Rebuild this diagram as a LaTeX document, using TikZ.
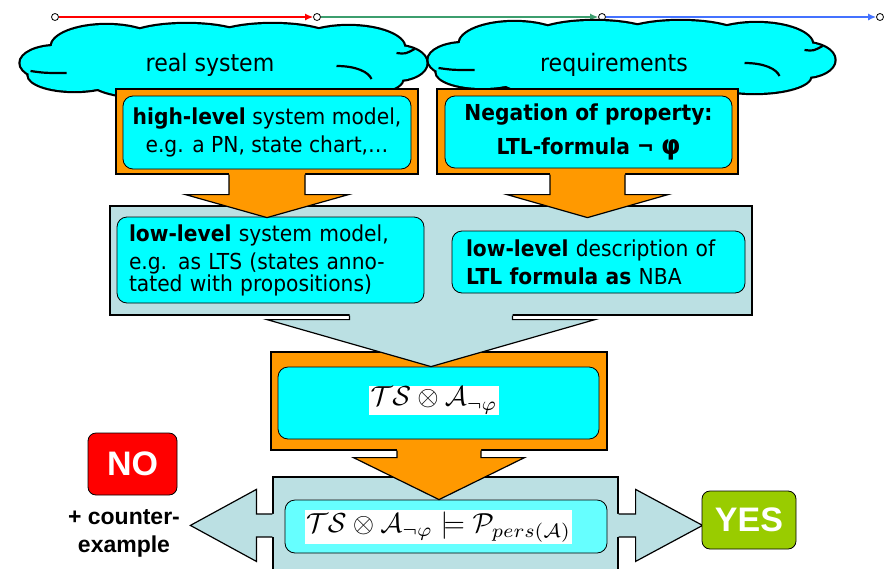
\documentclass[tikz,border=0pt]{standalone}
\usepackage{fontspec}
\newfontfamily\boxfont{DejaVu Sans}[FakeStretch=0.92]
\newfontfamily\arialfont{Liberation Sans}
\usetikzlibrary{arrows.meta,calc}

\definecolor{boxorange}{HTML}{FF9900}
\definecolor{boxcyan}{HTML}{00FFFF}
\definecolor{palecyan}{HTML}{66FFFF}
\definecolor{boxgray}{HTML}{BBE0E3}
\definecolor{nored}{HTML}{FF0000}
\definecolor{yesgreen}{HTML}{99CC00}
\definecolor{linegreen}{HTML}{3C9E6E}
\definecolor{lineblue}{HTML}{4472FF}

% block arrow hanging off a box: anchor, rotation, stem half, head half, stem length, tip length, fill
\newcommand{\blockarrow}[7]{%
  \begin{scope}[shift={(#1)},rotate=#2]
    \fill[#7] (-#3,-1.5) -- (-#3,#5) -- (-#4,#5) -- (0,#6) -- (#4,#5) -- (#3,#5) -- (#3,-1.5) -- cycle;
    \draw[line width=1.2pt,line join=miter] (-#3,0) -- (-#3,#5) -- (-#4,#5) -- (0,#6) -- (#4,#5) -- (#3,#5) -- (#3,0);
  \end{scope}}

% puffs of a cloud: x/y/rx/ry around its centre
\def\cloudpuffs{-168/2/36/17, -118/-14/55/22, -38/-21/62/16, 48/-21/62/16, 124/-13/56/22,
  172/2/30/17, 122/18/56/17, 32/22/72/15, -68/20/66/17, -150/14/46/16, 0/0/175/24}
\newcommand{\puffcloud}[1]{%
  \begin{scope}[shift={(#1)}]
    \foreach \px/\py/\rx/\ry in \cloudpuffs
      \draw[line width=4.4pt,fill=boxcyan] (\px,\py) ellipse ({\rx} and {\ry});
    \foreach \px/\py/\rx/\ry in \cloudpuffs
      \fill[boxcyan] (\px,\py) ellipse ({\rx} and {\ry});
    % creases
    \draw[line width=2.2pt] (-194,10) .. controls (-180,12) .. (-158,12);
    \draw[line width=2.2pt] (112,5) .. controls (132,5) and (144,11) .. (147,18);
    \draw[line width=2.2pt] (172,-8) .. controls (181,-7) .. (190,-12);
  \end{scope}}

\begin{document}
\begin{tikzpicture}[x=1pt,y=-1pt,
  outer/.style={rectangle,draw,line width=1.2pt,inner sep=0pt},
  inner/.style={rectangle,draw,line width=0.8pt,rounded corners=10pt,fill=boxcyan,inner sep=0pt,
    font=\boxfont\fontsize{22}{28}\selectfont},
  formula/.style={fill=white,inner sep=1.5pt},
  dot/.style={circle,draw,fill=white,line width=0.8pt,inner sep=0pt,minimum size=7pt},
  verdict/.style={rectangle,draw,line width=0.8pt,rounded corners=8pt,text=white,
    font=\arialfont\bfseries\fontsize{34}{34}\selectfont}]
\useasboundingbox (0,0) rectangle (894,568);
\clip (0,0) rectangle (894,568);

% time line
\node[dot] (t0) at (55,17) {};
\node[dot] (t1) at (317,17) {};
\node[dot] (t2) at (602,17) {};
\node[dot] (t3) at (880,17) {};
\draw[nored,line width=1.3pt,-{Latex[length=8pt,width=7pt]}] (t0) -- (t1);
\draw[linegreen,line width=1.3pt,-{Latex[length=8pt,width=7pt]}] (t1) -- (t2);
\draw[lineblue,line width=1.3pt,-{Latex[length=8pt,width=7pt]}] (t2) -- (t3);

% clouds
\puffcloud{224.5,61}
\node[font=\boxfont\fontsize{24}{28}\selectfont] (realtxt) at (210,65) {real system};
\puffcloud{632.5,58}
\node[font=\boxfont\fontsize{24}{28}\selectfont] (reqtxt) at (614,65) {requirements};

% model check box
\node[outer,fill=boxgray,minimum width=345pt,minimum height=143pt] (check) at (445.5,548.5) {};
\blockarrow{$(check.north west)+(0,49)$}{-90}{11.5}{36}{16}{82}{boxgray}
\blockarrow{$(check.north east)+(0,49)$}{90}{11.5}{36}{17}{84}{boxgray}
\node[inner,fill=palecyan,minimum width=322pt,minimum height=53pt] (checkin) at (446,526.5) {};
\node[formula] (checkf) at (438.5,527) {\scalebox{2.75}{$\mathcal{TS}\otimes\mathcal{A}_{\neg\varphi}\models\mathcal{P}_{pers(\mathcal{A})}$}};

\node[verdict,fill=nored,minimum width=89pt,minimum height=62pt] (no) at (132.5,464) {NO};
\node[verdict,fill=yesgreen,minimum width=94pt,minimum height=58pt] (yes) at (749,520) {YES};
\node[align=center,font=\arialfont\bfseries\fontsize{23}{28}\selectfont] (cex) at (124,533) {+ counter-\\example};

% product
\node[outer,fill=boxorange,minimum width=336pt,minimum height=98pt] (prod) at (439,401) {};
\node[inner,minimum width=321pt,minimum height=72pt] (prodin) at (438.5,403) {};
\node[formula] (prodf) at (434,400.5) {\scalebox{2.75}{$\mathcal{TS}\otimes\mathcal{A}_{\neg\varphi}$}};
\blockarrow{prod.south}{0}{42}{85.5}{7}{49}{boxorange}

% low level
\node[outer,fill=boxgray,minimum width=642pt,minimum height=109pt] (low) at (431,260.5) {};
\node[inner,align=left,text width=283pt,minimum width=307pt,minimum height=86pt] (lowsys) at (270.5,260)
  {\textbf{low-level} system model,\\e.g. as LTS (states anno-\\[-6pt]tated with propositions)};
\node[inner,align=left,text width=265pt,minimum width=293pt,minimum height=62pt] (lownba) at (598.5,262)
  {\textbf{low-level} description of\\\textbf{LTL formula as} NBA};
\blockarrow{low.south}{0}{81.5}{164}{4}{51}{boxgray}

% high level
\node[outer,fill=boxorange,minimum width=302pt,minimum height=85pt] (high) at (267,131.5) {};
\node[inner,align=center,minimum width=288pt,minimum height=73pt] (highsys) at (267,132.5)
  {\textbf{high-level} system model,\\e.g. a PN, state chart,\dots};
\blockarrow{high.south}{0}{38}{81.5}{20}{43}{boxorange}
\node[outer,fill=boxorange,minimum width=301pt,minimum height=85pt] (neg) at (587.5,131.5) {};
\node[inner,align=center,minimum width=287pt,minimum height=72pt,font=\boxfont\bfseries\fontsize{22}{34}\selectfont] (negphi) at (588.5,132)
  {Negation of property:\\LTL-formula ¬ {\fontsize{27}{30}\selectfont φ}};
\blockarrow{neg.south}{0}{37.5}{80.5}{20}{43}{boxorange}
\end{tikzpicture}
\end{document}
